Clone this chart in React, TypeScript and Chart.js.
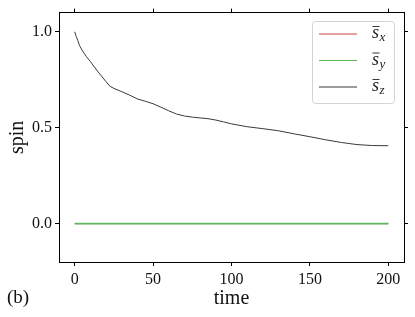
import React, { useEffect, useRef } from "react";
import { Chart, registerables } from "chart.js";

Chart.register(...registerables);

const times = [0, 1, 2, 3, 5, 7.5, 10, 15, 20, 22.5, 25, 30, 35, 40, 45, 50, 55, 60, 65, 70, 75, 80, 85, 90, 95, 100, 110, 120, 130, 140, 150, 160, 170, 180, 190, 200];
const sz = [1.0, 0.975, 0.955, 0.93, 0.9, 0.87, 0.845, 0.79, 0.74, 0.716, 0.705, 0.688, 0.67, 0.65, 0.638, 0.625, 0.607, 0.588, 0.571, 0.561, 0.555, 0.551, 0.547, 0.54, 0.53, 0.52, 0.505, 0.495, 0.484, 0.468, 0.453, 0.437, 0.423, 0.412, 0.407, 0.406];
const sxTimes = [0, 200];
const sx = [0, 0];
const sy = [0, 0];
const seriesLabels = ["x", "y", "z"];
const seriesColors = ["#c84646", "#5cb85c", "#3a3a3a"];
const xTicks = [0, 50, 100, 150, 200];
const yTicks = [0.0, 0.5, 1.0];
const panelLabel = "(b)";

const SERIF = "'Liberation Serif', 'DejaVu Serif', serif";

const legendPlugin = {
  id: "customLegend",
  afterDraw(chart: any) {
    const ctx = chart.ctx;
    ctx.save();
    const bx = 312.5, by = 21.5, bw = 82, bh = 82, r = 3;
    ctx.beginPath();
    ctx.moveTo(bx + r, by);
    ctx.lineTo(bx + bw - r, by);
    ctx.quadraticCurveTo(bx + bw, by, bx + bw, by + r);
    ctx.lineTo(bx + bw, by + bh - r);
    ctx.quadraticCurveTo(bx + bw, by + bh, bx + bw - r, by + bh);
    ctx.lineTo(bx + r, by + bh);
    ctx.quadraticCurveTo(bx, by + bh, bx, by + bh - r);
    ctx.lineTo(bx, by + r);
    ctx.quadraticCurveTo(bx, by, bx + r, by);
    ctx.closePath();
    ctx.fillStyle = "rgba(255,255,255,0.8)";
    ctx.fill();
    ctx.strokeStyle = "#d4d4d4";
    ctx.lineWidth = 1;
    ctx.stroke();
    chart.data.datasets.forEach((ds: any, i: number) => {
      const y = 34 + i * 26.5;
      ctx.strokeStyle = ds.borderColor;
      ctx.lineWidth = 1.2;
      ctx.beginPath();
      ctx.moveTo(319, y);
      ctx.lineTo(357, y);
      ctx.stroke();
      ctx.fillStyle = "#222";
      ctx.textBaseline = "alphabetic";
      ctx.textAlign = "left";
      ctx.font = "italic 18px " + SERIF;
      ctx.fillText("s", 372, y + 4);
      const sw = ctx.measureText("s").width;
      ctx.strokeStyle = "#222";
      ctx.lineWidth = 0.9;
      ctx.beginPath();
      ctx.moveTo(372.5, y - 7.5);
      ctx.lineTo(372.5 + sw, y - 7.5);
      ctx.stroke();
      ctx.font = "italic 13px " + SERIF;
      ctx.fillText(ds.label, 372 + sw + 0.5, y + 7);
    });
    ctx.fillStyle = "#111";
    ctx.font = "19px " + SERIF;
    ctx.textBaseline = "middle";
    ctx.textAlign = "left";
    ctx.fillText(panelLabel, 7, 298);
    ctx.restore();
  },
};

export default function App() {
  const ref = useRef<HTMLCanvasElement>(null);
  useEffect(() => {
    if (!ref.current) return;
    const mk = (xs: number[], ys: number[]) => xs.map((x, i) => ({ x, y: ys[i] }));
    const chart = new Chart(ref.current, {
      type: "line",
      data: {
        datasets: [
          { label: seriesLabels[0], data: mk(sxTimes, sx), borderColor: seriesColors[0], borderWidth: 0.8, pointRadius: 0, tension: 0, order: 2 },
          { label: seriesLabels[1], data: mk(sxTimes, sy), borderColor: seriesColors[1], borderWidth: 1.6, pointRadius: 0, tension: 0, order: 1 },
          { label: seriesLabels[2], data: mk(times, sz), borderColor: seriesColors[2], borderWidth: 1, pointRadius: 0, tension: 0, order: 0 },
        ],
      },
      options: {
        responsive: false,
        animation: false,
        layout: { padding: 0 },
        plugins: { legend: { display: false }, tooltip: { enabled: false } },
        scales: {
          x: {
            type: "linear",
            position: "bottom",
            min: -10,
            max: 210,
            afterBuildTicks: (s: any) => { s.ticks = xTicks.map((v) => ({ value: v })); },
            afterFit: (s: any) => { s.height = 55; },
            grid: { drawOnChartArea: false, drawTicks: true, tickLength: 4, color: "#000", tickColor: "#000" },
            border: { display: true, color: "#000", width: 1 },
            ticks: { color: "#111", font: { family: SERIF, size: 16 }, padding: 4, maxRotation: 0 },
            title: { display: true, text: "time", color: "#111", font: { family: SERIF, size: 20 }, padding: { top: 0, bottom: 6 } },
          },
          x2: {
            type: "linear",
            position: "top",
            min: -10,
            max: 210,
            afterBuildTicks: (s: any) => { s.ticks = xTicks.map((v) => ({ value: v })); },
            afterFit: (s: any) => { s.height = 11; },
            grid: { drawOnChartArea: false, drawTicks: true, tickLength: 4, color: "#000", tickColor: "#000" },
            border: { display: true, color: "#000", width: 1 },
            ticks: { display: false },
          },
          y: {
            type: "linear",
            position: "left",
            min: -0.2,
            max: 1.1,
            afterBuildTicks: (s: any) => { s.ticks = yTicks.map((v) => ({ value: v })); },
            afterFit: (s: any) => { s.width = 59; },
            grid: { drawOnChartArea: false, drawTicks: true, tickLength: 4, color: "#000", tickColor: "#000" },
            border: { display: true, color: "#000", width: 1 },
            ticks: { color: "#111", font: { family: SERIF, size: 16 }, padding: 3, callback: (v: any) => Number(v).toFixed(1) },
            title: { display: true, text: "spin", color: "#111", font: { family: SERIF, size: 20 }, padding: { top: 6, bottom: 0 } },
          },
          y2: {
            type: "linear",
            position: "right",
            min: -0.2,
            max: 1.1,
            afterBuildTicks: (s: any) => { s.ticks = yTicks.map((v) => ({ value: v })); },
            afterFit: (s: any) => { s.width = 11; },
            grid: { drawOnChartArea: false, drawTicks: true, tickLength: 4, color: "#000", tickColor: "#000" },
            border: { display: true, color: "#000", width: 1 },
            ticks: { display: false },
          },
        },
      } as any,
      plugins: [legendPlugin],
    });
    return () => chart.destroy();
  }, []);
  return (
    <div style={{ position: "fixed", left: 0, top: 0, width: 415, height: 317, background: "#fff" }}>
      <canvas ref={ref} width={415} height={317} style={{ width: 415, height: 317, display: "block" }} />
    </div>
  );
}
